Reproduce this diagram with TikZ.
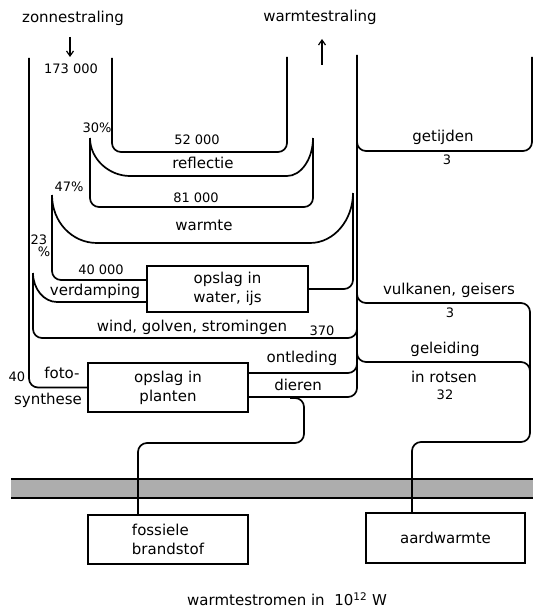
\documentclass[tikz,border=0pt]{standalone}
\usepackage{fontspec}
\setmainfont{DejaVu Sans}
\usetikzlibrary{arrows.meta}
\begin{document}
\begin{tikzpicture}[x=1pt,y=-1pt,
  flow/.style={line width=1.7pt, rounded corners=9pt, line join=round},
  band/.style={line width=1.7pt, line join=round},
  box/.style={draw, line width=1.7pt, rectangle, inner sep=0pt, outer sep=0pt, align=center, font=\fontsize{15}{19}\selectfont},
  lbl/.style={inner sep=0pt, font=\fontsize{15}{17}\selectfont},
  num/.style={inner sep=0pt, font=\fontsize{13}{15}\selectfont},
  arr/.style={line width=1.2pt, -{Straight Barb[length=5pt,width=7pt]}},
]
\useasboundingbox (0,0) rectangle (533,610);

% ground band
\fill[black!32] (11,479) rectangle (533,498);
\draw[line width=1.7pt] (11,479) -- (533,479) (11,498) -- (533,498);

% boxes
\node[box, minimum width=161pt, minimum height=46pt] (water) at (227.5,289) {opslag in\\water, ijs};
\node[box, minimum width=160pt, minimum height=49pt] (planten) at (168,387.5) {opslag in\\planten};
\node[box, minimum width=160pt, minimum height=49pt, align=left] (fossiel) at (168,539.5) {fossiele\\brandstof};
\node[box, minimum width=159pt, minimum height=50pt] (aard) at (445.5,538) {aardwarmte};

% arrows
\coordinate (inS) at (70,37);
\coordinate (inE) at (70,57);
\coordinate (outS) at (322,65);
\coordinate (outE) at (322,39);
\draw[arr] (inS) -- (inE);
\draw[arr] (outS) -- (outE);

% incoming band / fotosynthese
\draw[flow] (29,58) -- (29,387.5) -- (planten.west);
% reflectie
\draw[flow] (112,58) -- (112,152) -- (287,152) -- (287,57);
\draw[band] (90,138) .. controls (90,159) and (109,176) .. (130,176) -- (287,176) .. controls (301,176) and (313,159) .. (313,138);
\draw[flow] (90,138) -- (90,207) -- (313,207) -- (313,138);
% warmte
\draw[band] (52,195) .. controls (52,222) and (72,243) .. (97,243) -- (310,243) .. controls (334,243) and (353,220) .. (353,193);
\draw[flow] (52,195) -- (52,280) -- ([yshift=9pt]water.west);
\draw[flow] (water.east) -- (353,289) -- (353,193);
% verdamping
\draw[band] (33,273) .. controls (33,289) and (44,302) .. (57,302) -- ([yshift=-13pt]water.west);
% wind
\draw[flow] (33,273) -- (33,338) -- (357,338) -- (357,318);
% main outgoing line with dieren
\draw[flow] ([yshift=-9.5pt]planten.east) -- (357,397) -- (357,55);
\draw[flow] ([yshift=14.5pt]planten.east) -- (357,373) -- (357,353);
% getijden
\draw[flow] (357,128) -- (357,151) -- (532,151) -- (532,57);
% vulkanen, geleiding, aardwarmte
\draw[flow] (357,282) -- (357,303) -- (530,303) -- (530,442) -- (412,442) -- ([xshift=-33.5pt]aard.north);
\draw[flow] (357,342) -- (357,362) -- (530,362) -- (530,385);
% fossiele brandstof
\draw[flow] (290,398) -- (304,398) -- (304,443) -- (138,443) -- ([xshift=-30pt]fossiel.north);

% labels
\node[lbl] (l1) at (73,18) {zonnestraling};
\node[lbl] (l2) at (320,17) {warmtestraling};
\node[num] (n1) at (71,69) {173 000};
\node[num] (n2) at (97,128) {30\%};
\node[num] (n3) at (197,140) {52 000};
\node[lbl] (l3) at (203,163) {reflectie};
\node[num] (n4) at (69,187) {47\%};
\node[num] (n5) at (196,198) {81 000};
\node[lbl] (l4) at (204,225) {warmte};
\node[num] (n6) at (39,240) {23};
\node[num] (n7) at (44,252) {\%};
\node[num] (n8) at (101,270) {40 000};
\node[lbl] (l5) at (95,291) {verdamping};
\node[lbl] (l6) at (192,327) {wind, golven, stromingen};
\node[num] (n9) at (322,331) {370};
\node[num] (n10) at (17,377) {40};
\node[lbl] (l7) at (62,373) {foto-};
\node[lbl] (l8) at (48,400) {synthese};
\node[lbl] (l9) at (302,358) {ontleding};
\node[lbl] (l10) at (298,385) {dieren};
\node[lbl] (l11) at (443,137) {getijden};
\node[num] (n11) at (447,160) {3};
\node[lbl] (l12) at (449,290) {vulkanen, geisers};
\node[num] (n12) at (450,313) {3};
\node[lbl] (l13) at (445,349) {geleiding};
\node[lbl] (l14) at (444,377) {in rotsen};
\node[num] (n13) at (445,395) {32};
\node[lbl] (cap) at (287,599) {warmtestromen in \ 10\textsuperscript{12} W};
\end{tikzpicture}
\end{document}
